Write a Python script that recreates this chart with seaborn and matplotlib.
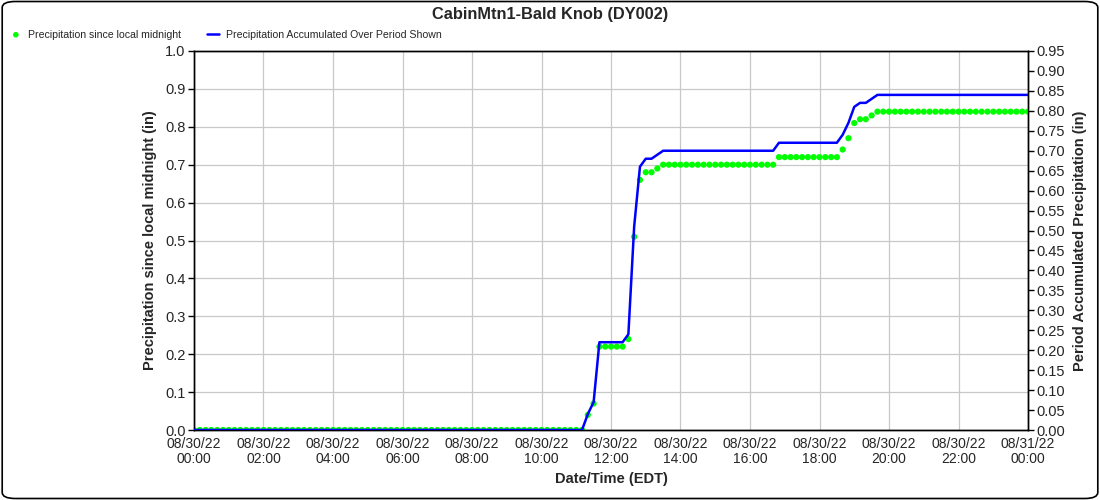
import numpy as np
import pandas as pd
import matplotlib
matplotlib.use("Agg")
import matplotlib.pyplot as plt
from matplotlib.patches import FancyBboxPatch
import seaborn as sns

# ---------------- data ----------------
title = "CabinMtn1-Bald Knob (DY002)"
start_time = "2022-08-30 00:00"
n_points = 145  # 10-minute observations, 00:00 .. 24:00
precip_since_midnight = (
    [0.00] * 68 +                                   # 00:00 - 11:10
    [0.04, 0.07, 0.22, 0.22, 0.22, 0.22, 0.22,      # 11:20 - 12:20
     0.24, 0.51, 0.66, 0.68, 0.68, 0.69] +          # 12:30 - 13:20
    [0.70] * 20 +                                   # 13:30 - 16:40
    [0.72] * 11 +                                   # 16:50 - 18:30
    [0.74, 0.77, 0.81, 0.82, 0.82, 0.83] +          # 18:40 - 19:30
    [0.84] * 27                                     # 19:40 - 24:00
)
precip_accumulated = list(precip_since_midnight)
x_tick_labels = ["08/30/22\n00:00", "08/30/22\n02:00", "08/30/22\n04:00", "08/30/22\n06:00",
                 "08/30/22\n08:00", "08/30/22\n10:00", "08/30/22\n12:00", "08/30/22\n14:00",
                 "08/30/22\n16:00", "08/30/22\n18:00", "08/30/22\n20:00", "08/30/22\n22:00",
                 "08/31/22\n00:00"]
left_label = "Precipitation since local midnight (in)"
right_label = "Period Accumulated Precipitation (in)"
x_label = "Date/Time (EDT)"
legend_green = "Precipitation since local midnight"
legend_blue = "Precipitation Accumulated Over Period Shown"

times = pd.date_range(start_time, periods=n_points, freq="10min")
df = pd.DataFrame({"time": times,
                   "since_midnight": precip_since_midnight,
                   "accum": precip_accumulated})

# ---------------- style ----------------
sns.set_theme(style="white")
plt.rcParams["font.family"] = ["Liberation Sans", "DejaVu Sans"]

fig = plt.figure(figsize=(11, 5), dpi=100)
ax = fig.add_axes([194/1100, 1-430/500, (1028-194)/1100, (430-51)/500])
ax2 = ax.twinx()

GREEN = "#00ff00"
BLUE = "#0000ff"

sns.scatterplot(data=df, x="time", y="since_midnight", ax=ax, color=GREEN,
                s=20, edgecolor="none", zorder=3, label=legend_green, legend=False)
sns.lineplot(data=df, x="time", y="accum", ax=ax2, color=BLUE, lw=1.8,
             zorder=3, label=legend_blue, legend=False)

# x axis
tick_times = pd.date_range(start_time, periods=len(x_tick_labels), freq="2h")
ax.set_xlim(times[0], times[-1])
ax.set_xticks(tick_times)
ax.set_xticklabels(x_tick_labels, fontsize=10, linespacing=1.1)
ax.set_xlabel(x_label, fontsize=10.5, fontweight="bold", labelpad=4)

# left axis
ax.set_ylim(0, 1.0)
ax.set_yticks(np.arange(0, 1.0001, 0.1))
ax.set_yticklabels([f"{v:.1f}" for v in np.arange(0, 1.0001, 0.1)], fontsize=10.5)
ax.set_ylabel(left_label, fontsize=10.5, fontweight="bold", labelpad=6)

# right axis
ax2.set_ylim(0, 0.95)
rt = np.arange(0, 0.9501, 0.05)
ax2.set_yticks(rt)
ax2.set_yticklabels([f"{v:.2f}" for v in rt], fontsize=10.5)
ax2.set_ylabel(right_label, fontsize=10.5, fontweight="bold", labelpad=6)

ax.grid(True, color="#c8c8c8", lw=0.9)
ax.set_axisbelow(True)
for a in (ax, ax2):
    for s in a.spines.values():
        s.set_color("black")
        s.set_linewidth(1.0)
    a.tick_params(direction="out", length=4, width=1, color="black", pad=2)
ax.tick_params(axis="x", pad=1)

fig.suptitle(title, fontsize=11.8, fontweight="bold", y=0.986, va="top")

h1, l1 = ax.get_legend_handles_labels()
h2, l2 = ax2.get_legend_handles_labels()
fig.legend(h1 + h2, l1 + l2, loc="upper left", bbox_to_anchor=(0.0, 0.960),
           ncol=2, frameon=False, fontsize=7.6, handlelength=1.2,
           columnspacing=2.4, handletextpad=0.6, markerscale=0.9)

border = FancyBboxPatch((0.002, 0.003), 0.996, 0.994,
                        boxstyle="round,pad=0,rounding_size=0.012",
                        transform=fig.transFigure, fill=False,
                        edgecolor="black", lw=1.2, zorder=10)
fig.patches.append(border)

fig.savefig("out.png", dpi=100, facecolor="white")
